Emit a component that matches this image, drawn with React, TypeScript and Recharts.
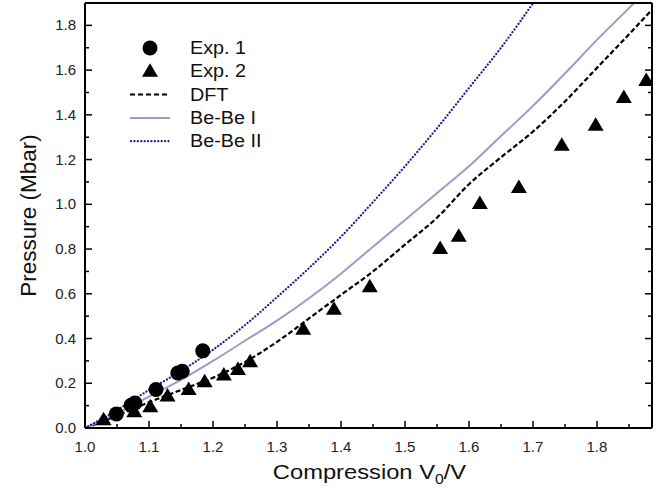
import { ComposedChart, Legend, Line, Scatter, XAxis, YAxis } from "recharts";

// Exp. 1 (circles)
const exp1 = [
  { x: 1.049, y: 0.063 },
  { x: 1.072, y: 0.102 },
  { x: 1.078, y: 0.112 },
  { x: 1.111, y: 0.172 },
  { x: 1.145, y: 0.246 },
  { x: 1.152, y: 0.254 },
  { x: 1.184, y: 0.345 }
];

// Exp. 2 (triangles)
const exp2 = [
  { x: 1.029, y: 0.037 },
  { x: 1.077, y: 0.073 },
  { x: 1.102, y: 0.095 },
  { x: 1.129, y: 0.143 },
  { x: 1.162, y: 0.172 },
  { x: 1.187, y: 0.207 },
  { x: 1.217, y: 0.237 },
  { x: 1.239, y: 0.262 },
  { x: 1.258, y: 0.296 },
  { x: 1.341, y: 0.441 },
  { x: 1.389, y: 0.531 },
  { x: 1.445, y: 0.631 },
  { x: 1.555, y: 0.803 },
  { x: 1.584, y: 0.857 },
  { x: 1.617, y: 1.004 },
  { x: 1.678, y: 1.075 },
  { x: 1.745, y: 1.264 },
  { x: 1.798, y: 1.353 },
  { x: 1.842, y: 1.478 },
  { x: 1.877, y: 1.554 }
];

const dft = [
  { x: 1.0, y: 0 },
  { x: 1.05, y: 0.055 },
  { x: 1.1, y: 0.115 },
  { x: 1.15, y: 0.17 },
  { x: 1.2, y: 0.225 },
  { x: 1.25, y: 0.295 },
  { x: 1.3, y: 0.385 },
  { x: 1.35, y: 0.49 },
  { x: 1.4, y: 0.595 },
  { x: 1.45, y: 0.7 },
  { x: 1.5, y: 0.82 },
  { x: 1.55, y: 0.94 },
  { x: 1.6, y: 1.09 },
  { x: 1.65, y: 1.21 },
  { x: 1.7, y: 1.325 },
  { x: 1.75, y: 1.46 },
  { x: 1.8, y: 1.61 },
  { x: 1.85, y: 1.76 },
  { x: 1.886, y: 1.87 }
];

const beBeI = [
  { x: 1.0, y: 0 },
  { x: 1.05, y: 0.065 },
  { x: 1.1, y: 0.14 },
  { x: 1.15, y: 0.215 },
  { x: 1.2, y: 0.3 },
  { x: 1.25, y: 0.39 },
  { x: 1.3, y: 0.48 },
  { x: 1.35, y: 0.58 },
  { x: 1.4, y: 0.69 },
  { x: 1.45, y: 0.81 },
  { x: 1.5, y: 0.93 },
  { x: 1.55, y: 1.05 },
  { x: 1.6, y: 1.17 },
  { x: 1.65, y: 1.305 },
  { x: 1.7, y: 1.44 },
  { x: 1.75, y: 1.585 },
  { x: 1.8, y: 1.735 },
  { x: 1.85, y: 1.877 },
  { x: 1.87, y: 1.935 }
];

const beBeII = [
  { x: 1.0, y: 0 },
  { x: 1.05, y: 0.08 },
  { x: 1.1, y: 0.17 },
  { x: 1.15, y: 0.255 },
  { x: 1.2, y: 0.35 },
  { x: 1.25, y: 0.46 },
  { x: 1.3, y: 0.585 },
  { x: 1.35, y: 0.715 },
  { x: 1.4, y: 0.855 },
  { x: 1.45, y: 1.01 },
  { x: 1.5, y: 1.17 },
  { x: 1.55, y: 1.34 },
  { x: 1.6, y: 1.52 },
  { x: 1.65, y: 1.7 },
  { x: 1.71, y: 1.94 }
];

const xTicks = [1.0, 1.05, 1.1, 1.15, 1.2, 1.25, 1.3, 1.35, 1.4, 1.45, 1.5, 1.55, 1.6, 1.65, 1.7, 1.75, 1.8, 1.85];
const yTicks = [0, 0.1, 0.2, 0.3, 0.4, 0.5, 0.6, 0.7, 0.8, 0.9, 1.0, 1.1, 1.2, 1.3, 1.4, 1.5, 1.6, 1.7, 1.8];

const legendItems = ["Exp. 1", "Exp. 2", "DFT", "Be-Be I", "Be-Be II"];

const font = "'Liberation Sans', Arial, Helvetica, sans-serif";
const lavender = "#9b9bcb";
const navy = "#1a1a9a";
// the original is slightly stretched sideways
const stretch = 1.13;

const majorX = (v: number) => Math.round(v * 100) % 10 === 0;
const majorY = (v: number) => Math.round(v * 10) % 2 === 0;

function makeTick(side: "bottom" | "top" | "left" | "right") {
  return (props: any) => {
    const { x, y, payload } = props;
    const v = payload.value as number;
    const isX = side === "bottom" || side === "top";
    const major = isX ? majorX(v) : majorY(v);
    const len = major ? 7 : 4;
    let line;
    if (side === "bottom") line = <line x1={x} x2={x} y1={y} y2={y - len} />;
    else if (side === "top") line = <line x1={x} x2={x} y1={y} y2={y + len} />;
    else if (side === "left") line = <line x1={x} x2={x + len} y1={y} y2={y} />;
    else line = <line x1={x} x2={x - len} y1={y} y2={y} />;
    return (
      <g stroke="#000" strokeWidth={1.5}>
        {line}
        {major && side === "bottom" ? (
          <text x={x} y={y + 24} textAnchor="middle" fontSize={15} fill="#222" stroke="none" fontFamily={font}>
            {v.toFixed(1)}
          </text>
        ) : null}
        {major && side === "left" ? (
          <text x={x - 9} y={y + 5} textAnchor="end" fontSize={15} fill="#222" stroke="none" fontFamily={font}>
            {v.toFixed(1)}
          </text>
        ) : null}
      </g>
    );
  };
}

function Circle(props: any) {
  const { cx, cy } = props;
  return <circle cx={cx} cy={cy} r={7.5} fill="#000" />;
}

function Triangle(props: any) {
  const { cx, cy } = props;
  return <path d={`M${cx},${cy - 8} L${cx + 8},${cy + 5.5} L${cx - 8},${cy + 5.5} Z`} fill="#000" />;
}

function LegendBox() {
  const rowY = (i: number) => 18 + i * 23.3;
  return (
    <svg width={180} height={130} style={{ display: "block" }}>
      <circle cx={30} cy={rowY(0)} r={7.5} fill="#000" />
      <path d={`M30,${rowY(1) - 8} L38,${rowY(1) + 5.5} L22,${rowY(1) + 5.5} Z`} fill="#000" />
      <line x1={10} x2={50} y1={rowY(2)} y2={rowY(2)} stroke="#000" strokeWidth={2} strokeDasharray="5 3" />
      <line x1={10} x2={50} y1={rowY(3)} y2={rowY(3)} stroke={lavender} strokeWidth={2} />
      <line x1={11} x2={50} y1={rowY(4)} y2={rowY(4)} stroke={navy} strokeWidth={2.2} strokeDasharray="0.1 3.3" strokeLinecap="round" />
      <g transform={`translate(70,0) scale(${stretch},1)`}>
        {legendItems.map((name, i) => (
          <text key={name} x={0} y={rowY(i) + 6} fontSize={17.5} fill="#111" fontFamily={font}>
            {name}
          </text>
        ))}
      </g>
    </svg>
  );
}

function XTitle(props: any) {
  const { viewBox } = props;
  const cx = viewBox.x + viewBox.width / 2 + 1;
  return (
    <g transform={`translate(${cx},0) scale(${stretch},1)`}>
      <text x={0} y={479} textAnchor="middle" fontSize={21} fill="#111" fontFamily={font}>
        <tspan>Compression V</tspan>
        <tspan fontSize={14} dy={5}>0</tspan>
        <tspan dy={-5}>/V</tspan>
      </text>
    </g>
  );
}

function YTitle(props: any) {
  const { viewBox } = props;
  const cy = viewBox.y + viewBox.height / 2;
  return (
    <text x={36} y={cy} textAnchor="middle" fontSize={22.5} fill="#111" fontFamily={font} transform={`rotate(-90, 36, ${cy})`}>
      Pressure (Mbar)
    </text>
  );
}

export default function App() {
  const xDomain = [1.0, 1.886];
  const yDomain = [0, 1.9];
  return (
    <div style={{ position: "absolute", left: 0, top: 0, width: 659, height: 491, background: "#fff" }}>
      <ComposedChart width={659} height={491} margin={{ top: 2, right: 6, bottom: 0, left: 0 }}>
        <XAxis
          xAxisId="b"
          dataKey="x"
          type="number"
          domain={xDomain}
          allowDataOverflow
          ticks={xTicks}
          interval={0}
          tickSize={0}
          tickMargin={0}
          tickLine={false}
          tick={makeTick("bottom")}
          axisLine={{ stroke: "#000", strokeWidth: 2 }}
          height={63}
          label={<XTitle />}
        />
        <XAxis
          xAxisId="t"
          orientation="top"
          type="number"
          domain={xDomain}
          allowDataOverflow
          ticks={xTicks}
          interval={0}
          tickSize={0}
          tickMargin={0}
          tickLine={false}
          tick={makeTick("top")}
          axisLine={{ stroke: "#000", strokeWidth: 2 }}
          height={1}
        />
        <YAxis
          yAxisId="l"
          dataKey="y"
          type="number"
          domain={yDomain}
          allowDataOverflow
          ticks={yTicks}
          interval={0}
          tickSize={0}
          tickMargin={0}
          tickLine={false}
          tick={makeTick("left")}
          axisLine={{ stroke: "#000", strokeWidth: 2 }}
          width={85}
          label={<YTitle />}
        />
        <YAxis
          yAxisId="r"
          orientation="right"
          type="number"
          domain={yDomain}
          allowDataOverflow
          ticks={yTicks}
          interval={0}
          tickSize={0}
          tickMargin={0}
          tickLine={false}
          tick={makeTick("right")}
          axisLine={{ stroke: "#000", strokeWidth: 2 }}
          width={1}
        />
        <Legend
          layout="vertical"
          align="center"
          verticalAlign="middle"
          wrapperStyle={{ left: 120, top: 30, width: 180, height: 130 }}
          content={() => <LegendBox />}
        />
        <Line xAxisId="b" yAxisId="l" data={dft} dataKey="y" type="monotone" stroke="#000" strokeWidth={2.2} strokeDasharray="5 2.5" dot={false} isAnimationActive={false} />
        <Line xAxisId="b" yAxisId="l" data={beBeI} dataKey="y" type="monotone" stroke={lavender} strokeWidth={2} dot={false} isAnimationActive={false} />
        <Line xAxisId="b" yAxisId="l" data={beBeII} dataKey="y" type="monotone" stroke={navy} strokeWidth={2.2} strokeDasharray="0.1 3.3" strokeLinecap="round" dot={false} isAnimationActive={false} />
        <Scatter xAxisId="b" yAxisId="l" data={exp2} dataKey="y" shape={<Triangle />} isAnimationActive={false} />
        <Scatter xAxisId="b" yAxisId="l" data={exp1} dataKey="y" shape={<Circle />} isAnimationActive={false} />
      </ComposedChart>
    </div>
  );
}
